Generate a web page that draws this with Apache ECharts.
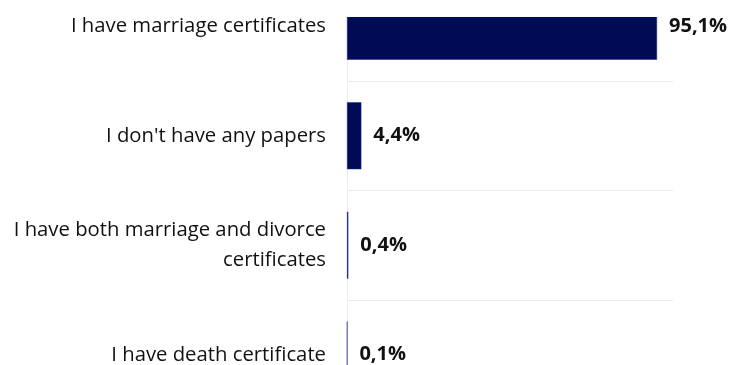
<!DOCTYPE html>
<html>
<head>
<meta charset="utf-8">
<script src="https://cdn.jsdelivr.net/npm/echarts@6/dist/echarts.min.js"></script>
<style>
  html, body { margin: 0; padding: 0; background: #ffffff; }
  #chart { width: 731px; height: 365px; }
</style>
</head>
<body>
<div id="chart"></div>
<script>
// Document status of respondents (share, %)
var categories = [
  "I have marriage certificates",
  "I don't have any papers",
  "I have both marriage and divorce\ncertificates",
  "I have death certificate"
];
var shares = [95.1, 4.4, 0.4, 0.1];

var BAR_COLOR = '#000a55';
var FONT = '"Open Sans", "Noto Sans", sans-serif';

var chart = echarts.init(document.getElementById('chart'), null, { renderer: 'canvas' });

chart.setOption({
  animation: false,
  backgroundColor: '#ffffff',
  grid: {
    left: 347,
    right: 58,
    top: -28.5,
    bottom: -44.5,
    containLabel: false,
    outerBoundsMode: 'none'
  },
  xAxis: {
    type: 'value',
    min: 0,
    max: 100,
    show: false
  },
  yAxis: {
    type: 'category',
    data: categories,
    inverse: true,
    axisLine: { show: true, lineStyle: { color: '#ebebeb', width: 1 } },
    axisTick: { show: false },
    splitLine: { show: true, lineStyle: { color: '#ebebeb', width: 1 } },
    axisLabel: {
      margin: 21,
      color: '#111111',
      fontFamily: FONT,
      fontSize: 20.3,
      lineHeight: 30,
      align: 'right'
    }
  },
  series: [{
    type: 'bar',
    data: shares,
    barWidth: 67,
    itemStyle: {
      color: BAR_COLOR,
      borderColor: '#1f2b8a',
      borderWidth: 0.5
    },
    label: {
      show: true,
      position: 'right',
      distance: 12,
      color: '#111111',
      fontFamily: FONT,
      fontWeight: 'bold',
      fontSize: 20,
      formatter: function (p) {
        return p.value.toFixed(1).replace('.', ',') + '%';
      }
    }
  }],
  graphic: [{
    type: 'rect',
    z: 100,
    shape: { x: 340, y: 0, width: 391, height: 17 },
    style: { fill: '#ffffff' }
  }]
});
</script>
</body>
</html>
